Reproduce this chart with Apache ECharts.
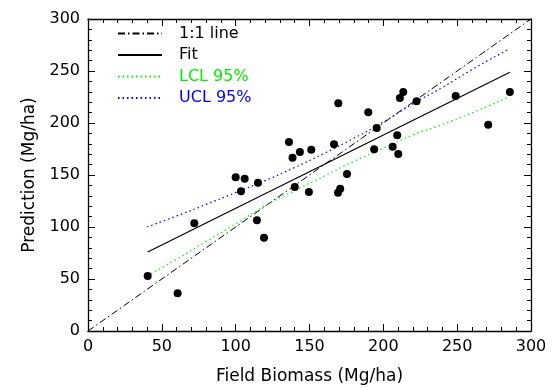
<!DOCTYPE html>
<html>
<head>
<meta charset="utf-8">
<script src="https://cdn.jsdelivr.net/npm/echarts@6/dist/echarts.min.js"></script>
<style>
html,body{margin:0;padding:0;background:#fff;}
#chart{width:557px;height:388px;}
</style>
</head>
<body>
<div id="chart"></div>
<script>
// Field biomass (x) vs predicted biomass (y), Mg/ha
var fieldBiomass = [40.4, 60.7, 72.0, 100.0, 106.1, 103.6, 115.1, 114.4, 119.2, 136.1, 138.5, 143.5, 151.2, 140.0, 149.6, 166.6,
                    169.5, 170.8, 169.3, 175.4, 189.8, 195.5, 193.8, 209.4, 206.3, 210.1, 211.2, 213.5, 222.5, 249.0, 271.0, 285.7];
var prediction   = [52.9, 36.3, 103.6, 147.8, 146.4, 134.3, 142.6, 106.4, 89.7, 181.7, 166.6, 172.1, 174.3, 138.5, 133.7, 179.5,
                    218.9, 136.8, 133.0, 151.0, 210.3, 195.2, 174.7, 188.2, 177.2, 170.2, 224.0, 229.8, 220.9, 226.0, 198.4, 229.8];

// 1:1 reference line
var oneToOneX = [0, 300];
var oneToOneY = [0, 300];

// fitted line end points
var fitX = [40.4, 285.7];
var fitY = [76.0, 248.8];

// confidence limits read along x
var bandX = [40, 60, 80, 100, 120, 140, 160, 180, 200, 220, 240, 260, 285];
var lcl95 = [53.0, 69.0, 86.1, 102.9, 120.5, 135.0, 149.0, 163.1, 175.6, 188.5, 198.6, 209.7, 225.0];
var ucl95 = [100.0, 110.6, 121.7, 133.1, 144.6, 157.2, 170.8, 185.3, 201.0, 218.5, 234.2, 251.3, 271.0];

// legend entries
var legendNames = ['1:1 line', 'Fit', 'LCL 95%', 'UCL 95%'];

// axis ticks
var axisMin = 0, axisMax = 300, axisStep = 50;

function pairs(xs, ys) { return xs.map(function (x, i) { return [x, ys[i]]; }); }

var FONT = 'DejaVu Sans';
var chart = echarts.init(document.getElementById('chart'), null, {renderer: 'canvas'});

function mkAxis(pos, show, extra) {
  var a = {
    type: 'value', position: pos, min: axisMin, max: axisMax, interval: axisStep,
    axisLine: {show: true, onZero: false, lineStyle: {color: '#000', width: 1.3}},
    axisTick: {show: true, inside: true, length: 7, lineStyle: {color: '#000', width: 1}},
    minorTick: {show: true, splitNumber: 5, length: 4, lineStyle: {color: '#000', width: 1}},
    splitLine: {show: false},
    axisLabel: {show: show, color: '#000', fontFamily: FONT, fontSize: 16, margin: 8}
  };
  for (var k in extra) a[k] = extra[k];
  return a;
}

var colors = {line: '#000', lcl: '#00ee00', ucl: '#0000ff'};

var option = {
  animation: false,
  backgroundColor: '#fff',
  grid: {left: 88, right: 26, top: 19, bottom: 57, containLabel: false, outerBoundsMode: 'none'},
  legend: {
    orient: 'vertical', left: 112, top: 19,
    itemWidth: 44, itemHeight: 12, itemGap: 2.5,
    itemStyle: {opacity: 0},
    textStyle: {fontFamily: FONT, fontSize: 16, color: '#000', lineHeight: 19, padding: [0, 0, 0, 12]},
    data: [
      {name: legendNames[0]},
      {name: legendNames[1]},
      {name: legendNames[2], textStyle: {color: colors.lcl}},
      {name: legendNames[3], textStyle: {color: colors.ucl}}
    ]
  },
  xAxis: [
    mkAxis('bottom', true, {name: 'Field Biomass (Mg/ha)', nameLocation: 'middle', nameGap: 37,
      nameTextStyle: {fontFamily: FONT, fontSize: 17, color: '#000'}}),
    mkAxis('top', false, {})
  ],
  yAxis: [
    mkAxis('left', true, {name: 'Prediction (Mg/ha)', nameLocation: 'middle', nameGap: 44,
      nameTextStyle: {fontFamily: FONT, fontSize: 17, color: '#000'}}),
    mkAxis('right', false, {})
  ],
  series: [
    {name: legendNames[0], type: 'line', data: pairs(oneToOneX, oneToOneY), showSymbol: false, symbol: 'none',
      lineStyle: {color: colors.line, width: 1, type: [7, 3, 1.5, 3]}, itemStyle: {color: colors.line}, z: 2},
    {name: legendNames[1], type: 'line', data: pairs(fitX, fitY), showSymbol: false, symbol: 'none',
      lineStyle: {color: colors.line, width: 1.2, type: 'solid'}, itemStyle: {color: colors.line}, z: 2},
    {name: legendNames[2], type: 'line', smooth: true, data: pairs(bandX, lcl95), showSymbol: false, symbol: 'none',
      lineStyle: {color: colors.lcl, width: 1.2, type: [1.5, 3]}, itemStyle: {color: colors.lcl}, z: 2},
    {name: legendNames[3], type: 'line', smooth: true, data: pairs(bandX, ucl95), showSymbol: false, symbol: 'none',
      lineStyle: {color: colors.ucl, width: 1.2, type: [1.5, 3]}, itemStyle: {color: colors.ucl}, z: 2},
    {name: 'obs', type: 'scatter', data: pairs(fieldBiomass, prediction), symbol: 'circle', symbolSize: 8,
      itemStyle: {color: '#000', opacity: 1}, z: 5}
  ]
};
chart.setOption(option);
</script>
</body>
</html>
